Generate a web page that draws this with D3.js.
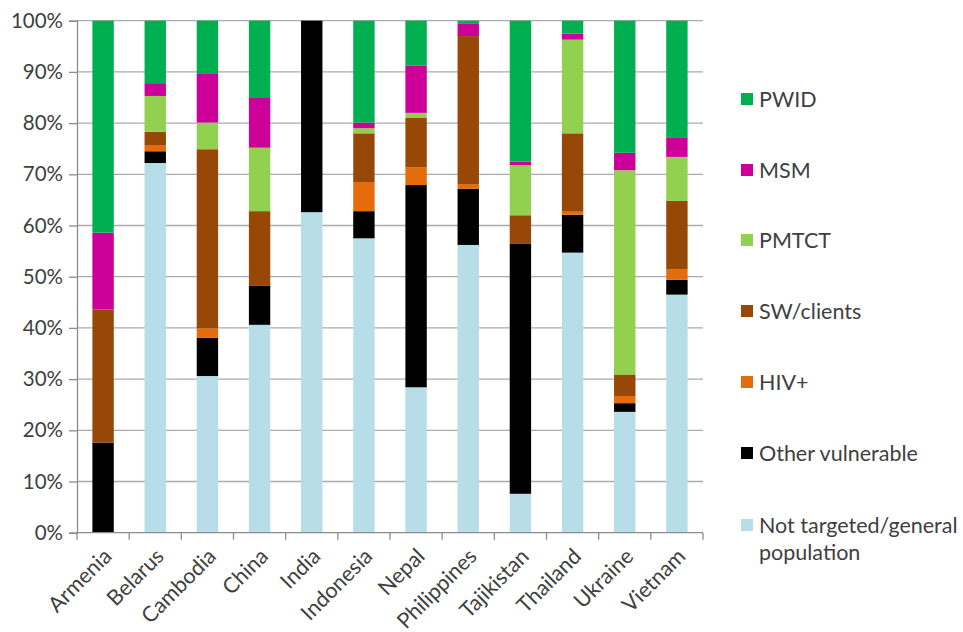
<!DOCTYPE html>
<html>
<head>
<meta charset="utf-8">
<script src="https://cdn.jsdelivr.net/npm/d3@7/dist/d3.min.js"></script>
<style>
  html, body { margin: 0; padding: 0; background: #fff; }
  svg { display: block; }
  text { font-family: Lato, "Open Sans", sans-serif; fill: #404040; }
</style>
</head>
<body>
<svg id="chart" width="963" height="632"></svg>
<script>
const countries = ["Armenia","Belarus","Cambodia","China","India","Indonesia","Nepal","Philippines","Tajikistan","Thailand","Ukraine","Vietnam"];
const seriesNames = ["Not targeted/general population","Other vulnerable","HIV+","SW/clients","PMTCT","MSM","PWID"];
const notTargeted   = [0,    72.2, 30.6, 40.6, 62.6, 57.5, 28.4, 56.2, 7.6,  54.7, 23.6, 46.5];
const otherVuln     = [17.6, 2.3,  7.5,  7.6,  37.4, 5.3,  39.5, 11.0, 48.9, 7.4,  1.7,  2.9];
const hivPos        = [0,    1.1,  1.8,  0,    0,    5.7,  3.5,  0.9,  0,    0.6,  1.4,  2.0];
const swClients     = [26.0, 2.7,  35.0, 14.6, 0,    9.5,  9.6,  28.9, 5.5,  15.3, 4.2,  13.4];
const pmtct         = [0,    7.0,  5.2,  12.4, 0,    1.0,  1.0,  0,    9.8,  18.3, 39.9, 8.6];
const msm           = [15.0, 2.5,  9.5,  9.7,  0,    1.1,  9.2,  2.5,  0.7,  1.2,  3.4,  3.7];
const pwid          = [41.4, 12.2, 10.4, 15.1, 0,    19.9, 8.8,  0.5,  27.5, 2.5,  25.8, 22.9];
const yTicks = [0,10,20,30,40,50,60,70,80,90,100];
const colors = ["#B7DDE8","#000000","#E46C0A","#974706","#92D050","#CC0099","#00B050"];

const seriesValues = [notTargeted, otherVuln, hivPos, swClients, pmtct, msm, pwid];
const rows = countries.map((c, i) => {
  const r = { country: c };
  seriesNames.forEach((s, k) => r[s] = seriesValues[k][i]);
  return r;
});
const stacked = d3.stack().keys(seriesNames).offset(d3.stackOffsetExpand)(rows);

const svg = d3.select("#chart");
const m = { left: 77, right: 703, top: 20.7, bottom: 532.7 };

const x = d3.scaleBand().domain(countries).range([m.left, m.right]).paddingInner(0.59).paddingOuter(0.295);
const xb = d3.scaleBand().domain(countries).range([m.left, m.right]);
const y = d3.scaleLinear().domain([0, 1]).range([m.bottom, m.top]);

// gridlines
svg.append("g").selectAll("line").data(yTicks.filter(t => t > 0)).join("line")
  .attr("x1", m.left).attr("x2", m.right)
  .attr("y1", d => y(d/100)).attr("y2", d => y(d/100))
  .attr("stroke", "#ababab").attr("stroke-width", 1.3);

// bars
svg.append("g").selectAll("g").data(stacked).join("g")
  .attr("fill", (d, i) => colors[i])
  .selectAll("rect").data(d => d).join("rect")
  .attr("x", d => x(d.data.country))
  .attr("width", x.bandwidth())
  .attr("y", d => y(d[1]))
  .attr("height", d => y(d[0]) - y(d[1]));

// y axis
const yAxis = d3.axisLeft(y).tickValues(yTicks.map(t => t/100)).tickFormat(d => Math.round(d*100) + "%").tickSize(8).tickPadding(6);
const gy = svg.append("g").attr("transform", `translate(${m.left},0)`).call(yAxis);
gy.select(".domain").attr("stroke", "#8c8c8c").attr("stroke-width", 1.3);
gy.selectAll(".tick line").attr("stroke", "#8c8c8c").attr("stroke-width", 1.3);
gy.selectAll(".tick text").style("font-size", "20.5px").style("font-family", "Lato, sans-serif").attr("fill", "#404040");

// x axis
svg.append("line").attr("x1", m.left).attr("x2", m.right).attr("y1", m.bottom).attr("y2", m.bottom)
  .attr("stroke", "#8c8c8c").attr("stroke-width", 1.3);
const bounds = countries.map(c => xb(c)).concat([m.right]);
svg.append("g").selectAll("line").data(bounds).join("line")
  .attr("x1", d => d).attr("x2", d => d).attr("y1", m.bottom).attr("y2", m.bottom + 7)
  .attr("stroke", "#8c8c8c").attr("stroke-width", 1.3);
svg.append("g").selectAll("text").data(countries).join("text")
  .attr("text-anchor", "end")
  .attr("transform", d => `translate(${xb(d) + xb.bandwidth()/2 - 1},${m.bottom + 14}) rotate(-45)`)
  .attr("dy", "0.72em")
  .style("font-size", "21.5px")
  .text(d => d);

// legend
const legendNames = seriesNames.slice().reverse();
const legendColors = colors.slice().reverse();
const legendY = [99, 170, 240, 311, 382, 453, 525];
const lg = svg.append("g");
legendNames.forEach((name, i) => {
  lg.append("rect").attr("x", 741).attr("y", legendY[i] - 6).attr("width", 12).attr("height", 12).attr("fill", legendColors[i]);
  const t = lg.append("text").attr("x", 759).attr("y", legendY[i]).attr("dy", "0.36em").style("font-size", "21.5px");
  if (name === "Not targeted/general population") {
    t.append("tspan").attr("x", 759).text("Not targeted/general");
    t.append("tspan").attr("x", 759).attr("dy", "1.25em").text("population");
  } else {
    t.text(name);
  }
});
</script>
</body>
</html>
